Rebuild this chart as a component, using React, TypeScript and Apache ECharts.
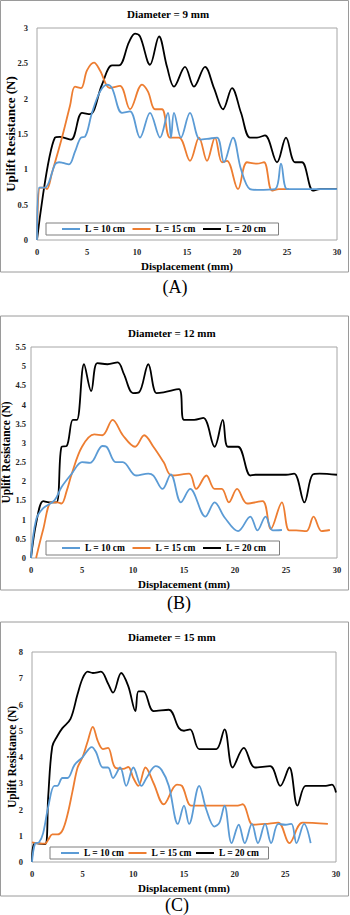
import React, { useEffect, useRef } from "react";
import * as echarts from "echarts";

// ---------- DATA ----------
const seriesNames = ["L = 10 cm", "L = 15 cm", "L = 20 cm"];
const panelTitles = ["Diameter = 9 mm", "Diameter = 12 mm", "Diameter = 15 mm"];
const panelLabels = ["(A)", "(B)", "(C)"];
const yMax = [3, 5.5, 8];
const yInterval = [0.5, 0.5, 1];
const xMax = 30;
const xInterval = 5;

// Panel A: diameter 9 mm  [displacement mm, resistance N]
const A_L10: number[][] = [
  [0, 0], [0.2, 0.74], [0.5, 0.74], [0.8, 0.74], [1.2, 0.82], [1.8, 1.07], [2.2, 1.1], [2.6, 1.09], [3.2, 1.07],
  [3.8, 1.25], [4.4, 1.45], [4.8, 1.46], [5.5, 1.8], [6.3, 2.1], [7, 2.2], [7.5, 2.15], [8.5, 1.8], [9.3, 1.82],
  [10.3, 1.45], [11.3, 1.8], [12.3, 1.45], [13.1, 1.8], [13.4, 1.45], [13.7, 1.8], [14.4, 1.45], [15.3, 1.8],
  [16.3, 1.42], [17, 1.43], [18, 1.45], [18.7, 1.1], [19.6, 1.45], [20.4, 1.0], [21.3, 0.72], [22, 0.71],
  [23.8, 0.72], [24.4, 1.08], [25, 0.72], [26, 0.72], [28, 0.72], [30, 0.72],
];
const A_L15: number[][] = [
  [0, 0], [0.3, 0.74], [0.8, 0.74], [1.0, 0.72], [1.5, 0.95], [2.5, 1.45], [3.3, 1.9], [3.8, 2.17], [4.4, 2.15],
  [5, 2.4], [5.7, 2.51], [6.3, 2.4], [7.3, 2.15], [8.3, 2.18], [9.3, 1.85], [10.5, 2.2], [11.1, 2.1], [11.8, 1.85],
  [12.5, 1.85], [13.3, 1.45], [14.2, 1.45], [15.3, 1.12], [16.2, 1.45], [17, 1.12], [17.8, 1.45], [18.5, 1.1],
  [19, 1.12], [20.1, 0.72], [21, 1.1], [22, 1.08], [22.7, 1.1], [23.5, 0.7], [24.2, 0.72], [25.2, 0.72],
];
const A_L20: number[][] = [
  [0, 0], [1.8, 1.45], [2.3, 1.46], [3.4, 1.42], [4.5, 1.8], [5.3, 1.78], [6.5, 2.2], [7.5, 2.47], [8.2, 2.47],
  [9.2, 2.8], [9.8, 2.92], [10.3, 2.88], [11.3, 2.48], [12.2, 2.88], [13, 2.45], [13.7, 2.17], [14.8, 2.45],
  [15.7, 2.17], [16.8, 2.45], [17.7, 2.15], [18.6, 1.85], [19.5, 2.15], [20.4, 1.8], [21.3, 1.45], [22, 1.45],
  [22.8, 1.48], [24, 1.1], [24.9, 1.45], [25.8, 1.1], [26.5, 1.1], [27.6, 0.7], [28.3, 0.72], [30, 0.72],
];

// Panel B: diameter 12 mm
const B_L10: number[][] = [
  [0, 0], [0.5, 1.0], [1.2, 1.3], [2.3, 1.5], [3, 1.85], [4, 2.2], [5, 2.5], [5.8, 2.48], [7, 2.92], [7.4, 2.9],
  [8.3, 2.5], [9, 2.5], [10.3, 2.15], [11.5, 2.2], [12, 2.15], [12.9, 1.8], [13.7, 2.18], [14.7, 1.45],
  [15.6, 1.8], [17.1, 1.08], [18, 1.45], [19, 1.05], [20.3, 0.7], [21.5, 1.08], [22.2, 0.72], [23, 1.08],
  [23.7, 0.72], [24.6, 0.73],
];
const B_L15: number[][] = [
  [0.5, 0], [1.2, 0.75], [2, 1.45], [2.6, 1.45], [3, 1.42], [3.5, 1.75], [4, 2.2], [5, 2.9], [6.2, 3.22],
  [7, 3.2], [8, 3.6], [9, 3.2], [10.2, 2.9], [11.1, 3.2], [12, 2.9], [13, 2.5], [13.8, 2.15], [15.5, 2.2],
  [16.2, 1.8], [17.2, 2.15], [18, 1.8], [18.7, 1.8], [19.4, 1.45], [20.2, 1.8], [21.2, 1.42], [22.7, 1.48],
  [23.5, 0.75], [24.6, 1.45], [25.3, 0.72], [26, 0.72], [27, 0.7], [27.7, 1.08], [28.5, 0.7], [29.3, 0.73],
];
const B_L20: number[][] = [
  [0, 0], [0.5, 0.9], [1.2, 1.48], [1.8, 1.45], [2.5, 1.45], [3, 2.9], [3.5, 2.92], [4.1, 3.6], [4.5, 3.6],
  [5.2, 5.05], [5.9, 4.35], [6.5, 5.08], [7.5, 5.05], [8.5, 5.1], [9.1, 4.8], [10, 4.3], [10.6, 4.32],
  [11.5, 5.05], [12.3, 4.3], [13, 4.32], [14.5, 4.4], [15, 3.6], [16, 3.6], [16.9, 3.65], [18, 2.9],
  [18.8, 3.6], [19.3, 2.9], [20.3, 2.9], [21.5, 2.15], [22, 2.17], [25, 2.17], [25.8, 2.2], [26.8, 1.45],
  [27.6, 2.17], [28.3, 2.2], [30, 2.17],
];

// Panel C: diameter 15 mm
const C_L10: number[][] = [
  [0, 0], [0.3, 0.7], [0.7, 0.75], [1.1, 1.1], [1.6, 2.1], [2.2, 2.9], [2.5, 2.9], [3, 3.2], [3.5, 3.2],
  [4.2, 3.7], [5, 4.0], [5.9, 4.38], [6.3, 4.2], [7, 3.6], [7.5, 3.6], [8, 3.2], [8.7, 3.6], [9.3, 2.9],
  [10, 3.6], [10.8, 2.9], [11.3, 3.2], [12.2, 3.65], [12.8, 3.5], [13.5, 2.9], [14.4, 1.45], [15, 2.15],
  [15.5, 1.45], [16.5, 2.9], [17.2, 2.0], [18, 1.35], [18.5, 1.5], [19, 2.15], [19.7, 0.72], [20.4, 1.42],
  [21, 0.72], [21.7, 1.45], [22.3, 0.72], [23, 1.45], [23.6, 0.72], [24.3, 1.45], [25, 1.42], [25.6, 1.45],
  [26.1, 0.72], [26.85, 1.45], [27.5, 0.72],
];
const C_L15: number[][] = [
  [0, 0.75], [0.5, 0.72], [1.3, 0.7], [1.6, 0.85], [2, 1.05], [2.5, 1.05], [3, 1.2], [3.5, 1.8], [4, 2.7],
  [4.5, 3.6], [5, 4.0], [5.5, 4.6], [6, 5.15], [6.5, 4.6], [7, 4.3], [7.5, 4.35], [8.2, 3.6], [9, 3.55],
  [9.5, 3.62], [10, 3.2], [10.5, 2.9], [11.2, 3.6], [12, 3.0], [13, 2.2], [14.3, 2.95], [14.8, 2.9],
  [15.7, 2.15], [16.5, 2.15], [20.3, 2.15], [20.8, 2.2], [21.8, 1.42], [23, 1.45], [24.3, 1.5], [25.4, 0.72],
  [26.7, 1.5], [29.2, 1.45],
];
const C_L20: number[][] = [
  [0, 0], [0.3, 0.72], [1.3, 0.68], [1.6, 2.5], [2, 4.4], [2.5, 4.8], [3, 5.1], [3.8, 5.45], [4.5, 6.4],
  [5, 7.0], [5.5, 7.25], [6, 7.2], [6.8, 7.25], [7.5, 6.8], [8, 6.45], [8.8, 7.2], [9.5, 6.7], [10.2, 5.75],
  [10.5, 6.5], [11, 6.5], [12, 5.75], [13.5, 5.8], [14.5, 5.1], [15, 5.0], [15.6, 5.05], [16.5, 4.3],
  [17.5, 4.3], [18.2, 4.3], [19, 5.05], [19.8, 3.6], [20.9, 4.35], [22, 3.6], [23.5, 3.65], [24.5, 2.9],
  [25.4, 3.6], [26.2, 2.15], [27, 2.9], [28, 2.9], [29, 2.9], [29.6, 2.95], [30, 2.65],
];

const panelData = [
  [A_L10, A_L15, A_L20],
  [B_L10, B_L15, B_L20],
  [C_L10, C_L15, C_L20],
];

// ---------- STYLE / LAYOUT ----------
const COLORS = ["#5B9BD5", "#ED7D31", "#000000"];
const FONT = '"Liberation Serif", "Times New Roman", serif';
const grids = [
  { left: 37, top: 28, width: 300, height: 212 },
  { left: 31, top: 347, width: 306, height: 211 },
  { left: 32, top: 652, width: 304, height: 210 },
];
const frames = [
  { y: 0.5, h: 271.5 },
  { y: 316, h: 274 },
  { y: 622, h: 274 },
];
const titlePos = [
  { left: 127, top: 8 },
  { left: 128, top: 327 },
  { left: 128, top: 631 },
];
const labelPos = [
  { x: 175, y: 287 },
  { x: 179, y: 603 },
  { x: 177, y: 905 },
];
const yNameSize = [13, 11.5, 11.5];
const yNameGap = [20, 19, 14];
const yLabelMargin = [9, 5, 9];
const legends = [
  { left: 46, top: 223, padding: [1, 12, 1, 16], itemGap: 7 },
  { left: 46, top: 541, padding: [2, 13, 2, 16], itemGap: 7 },
  { left: 50, top: 847, padding: [1, 9, 1, 11], itemGap: 4 },
];

export default function App() {
  const ref = useRef<HTMLDivElement>(null);

  useEffect(() => {
    if (!ref.current) return;
    const chart = echarts.init(ref.current, undefined, { renderer: "svg" });

    const series: any[] = [];
    panelData.forEach((lines, p) => {
      lines.forEach((data, s) => {
        series.push({
          name: seriesNames[s],
          type: "line",
          xAxisIndex: p,
          yAxisIndex: p,
          data,
          smooth: 0.35,
          symbol: "none",
          color: COLORS[s],
          lineStyle: { color: COLORS[s], width: 1.8 },
          z: 2 + (2 - s),
        });
      });
    });

    const option: any = {
      animation: false,
      backgroundColor: "#ffffff",
      title: panelTitles.map((t, i) => ({
        text: t,
        left: titlePos[i].left,
        top: titlePos[i].top,
        padding: 0,
        textStyle: { fontFamily: FONT, fontWeight: "bold", fontSize: 11, color: "#000" },
      })),
      legend: legends.map((l) => ({
        data: seriesNames,
        left: l.left,
        top: l.top,
        orient: "horizontal",
        padding: l.padding,
        itemGap: l.itemGap,
        icon: "rect",
        itemWidth: 18,
        itemHeight: 2,
        borderColor: "#7f7f7f",
        borderWidth: 1,
        backgroundColor: "#ffffff",
        selectedMode: false,
        textStyle: { fontFamily: FONT, fontWeight: "bold", fontSize: 9.5, color: "#000" },
      })),
      grid: grids.map((g) => ({
        ...g,
        show: true,
        borderColor: "#a6a6a6",
        borderWidth: 1,
        backgroundColor: "transparent",
        containLabel: false,
        outerBoundsMode: "none",
      })),
      xAxis: grids.map((_, i) => ({
        type: "value",
        gridIndex: i,
        min: 0,
        max: xMax,
        interval: xInterval,
        name: "Displacement (mm)",
        nameLocation: "middle",
        nameGap: 20,
        nameMoveOverlap: false,
        nameTextStyle: { fontFamily: FONT, fontWeight: "bold", fontSize: 11, color: "#000" },
        axisLine: { show: false },
        axisTick: { show: false },
        splitLine: { show: false },
        axisLabel: { fontFamily: FONT, fontWeight: "bold", fontSize: 8.5, color: "#262626", margin: 7 },
      })),
      yAxis: grids.map((_, i) => ({
        type: "value",
        gridIndex: i,
        min: 0,
        max: yMax[i],
        interval: yInterval[i],
        name: "Uplift Resistance (N)",
        nameLocation: "middle",
        nameRotate: 90,
        nameGap: yNameGap[i],
        nameMoveOverlap: false,
        nameTextStyle: { fontFamily: FONT, fontWeight: "bold", fontSize: yNameSize[i], color: "#000" },
        axisLine: { show: false },
        axisTick: { show: false },
        splitLine: { show: false },
        axisLabel: { fontFamily: FONT, fontWeight: "bold", fontSize: 8.5, color: "#262626", margin: yLabelMargin[i] },
      })),
      graphic: [
        ...frames.map((f) => ({
          type: "rect",
          silent: true,
          z: -10,
          shape: { x: 0.5, y: f.y, width: 348, height: f.h },
          style: { fill: "none", stroke: "#9a9a9a", lineWidth: 1 },
        })),
        ...panelLabels.map((t, i) => ({
          type: "text",
          silent: true,
          x: labelPos[i].x,
          y: labelPos[i].y,
          style: {
            text: t,
            fontFamily: FONT,
            fontSize: 18,
            fill: "#000",
            align: "center",
            verticalAlign: "middle",
          },
        })),
      ],
      series,
    };

    chart.setOption(option);
    return () => chart.dispose();
  }, []);

  return (
    <div
      ref={ref}
      style={{ position: "absolute", left: 0, top: 0, width: 350, height: 915, background: "#fff" }}
    />
  );
}
